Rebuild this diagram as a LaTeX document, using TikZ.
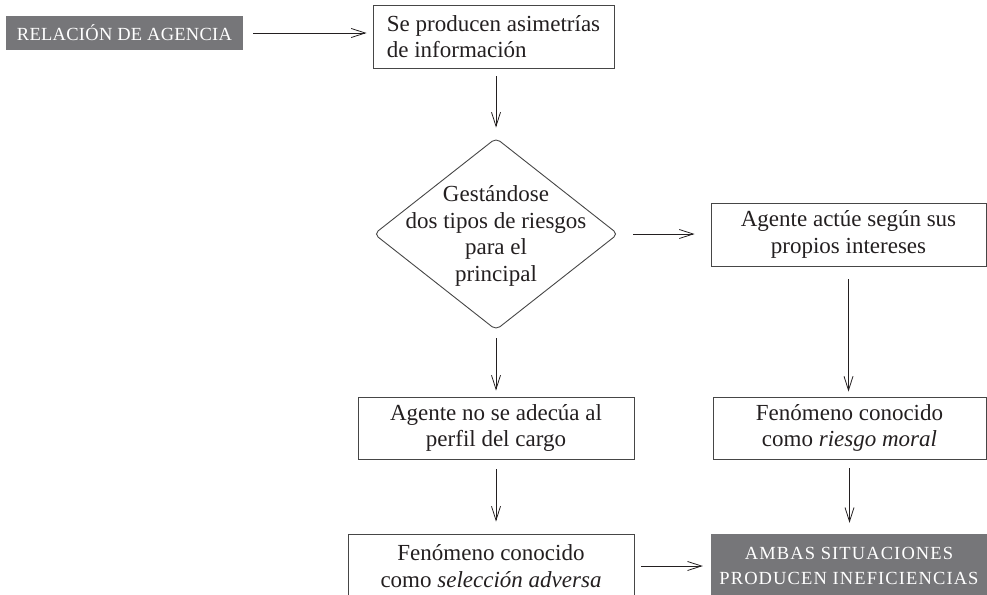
\documentclass[tikz,border=0pt]{standalone}
\usepackage{fontspec}
\setmainfont{Liberation Serif}
\usetikzlibrary{arrows.meta,shapes.geometric,calc}
\definecolor{boxgray}{RGB}{118,118,121}
\definecolor{ink}{RGB}{35,31,32}
\definecolor{edgec}{RGB}{70,70,70}
\begin{document}
\begin{tikzpicture}[x=1pt,y=-1pt,
  txt/.style={font=\fontsize{23}{26.5}\selectfont, text=ink},
  plainbox/.style={txt, draw=edgec, line width=0.9pt, align=center, inner sep=0pt},
  graybox/.style={fill=boxgray, text=white, font=\fontsize{18.5}{25}\selectfont\addfontfeatures{LetterSpace=6}, align=center, inner sep=0pt},
  graybox tight/.style={graybox, font=\fontsize{18.5}{25}\selectfont\addfontfeatures{LetterSpace=1.5}},
  arr/.style={draw=ink, line width=0.8pt, -{Straight Barb[length=14pt,width=9pt,line width=0.8pt]}}
]
\useasboundingbox (0,0) rectangle (987,594);
\clip (0,0) rectangle (987,594);

\node[graybox tight, minimum width=237pt, minimum height=34pt] (g1) at (124.5,33) {RELACIÓN DE AGENCIA};
\node[plainbox, align=left, minimum width=241pt, minimum height=63pt] (top) at (493.5,36.5) {Se producen asimetrías\\de información};
\node[draw=edgec, line width=0.9pt, shape=diamond, rounded corners=5pt, minimum width=244pt, minimum height=192pt, inner sep=0pt] (dia) at (496,234) {};
\node[txt, align=center] (dtext) at (496,236) {Gestándose\\dos tipos de riesgos\\para el\\principal};
\node[plainbox, minimum width=275pt, minimum height=63pt] (rt) at (848.5,234.5) {Agente actúe según sus\\propios intereses};
\node[plainbox, minimum width=276pt, minimum height=62pt] (lm) at (496,428) {Agente no se adecúa al\\perfil del cargo};
\node[plainbox, minimum width=273pt, minimum height=62pt] (rm) at (849.5,428) {Fenómeno conocido\\como \textit{riesgo moral}};
\node[plainbox, minimum width=286pt, minimum height=64pt] (lb) at (491,566) {Fenómeno conocido\\como \textit{selección adversa}};
\node[graybox, minimum width=276pt, minimum height=64pt] (g2) at (849,566) {AMBAS SITUACIONES\\PRODUCEN INEFICIENCIAS};

\draw[arr, shorten <=10pt, shorten >=6pt] (g1.east) -- (g1.east -| top.west);
\draw[arr, shorten <=8pt, shorten >=10pt] (dia.north |- top.south) -- (dia.north);
\draw[arr, shorten <=15pt, shorten >=16pt] (dia.east) -- (dia.east -| rt.west);
\draw[arr, shorten <=8pt, shorten >=6pt] (dia.south) -- (dia.south |- lm.north);
\draw[arr, shorten <=13pt, shorten >=5pt] (rt.south) -- (rt.south |- rm.north);
\draw[arr, shorten <=10pt, shorten >=12pt] (lm.south) -- (lm.south |- lb.north);
\draw[arr, shorten <=9pt, shorten >=11pt] (rm.south) -- (rm.south |- g2.north);
\draw[arr, shorten <=7pt, shorten >=8pt] (lb.east) -- (lb.east -| g2.west);
\end{tikzpicture}
\end{document}
